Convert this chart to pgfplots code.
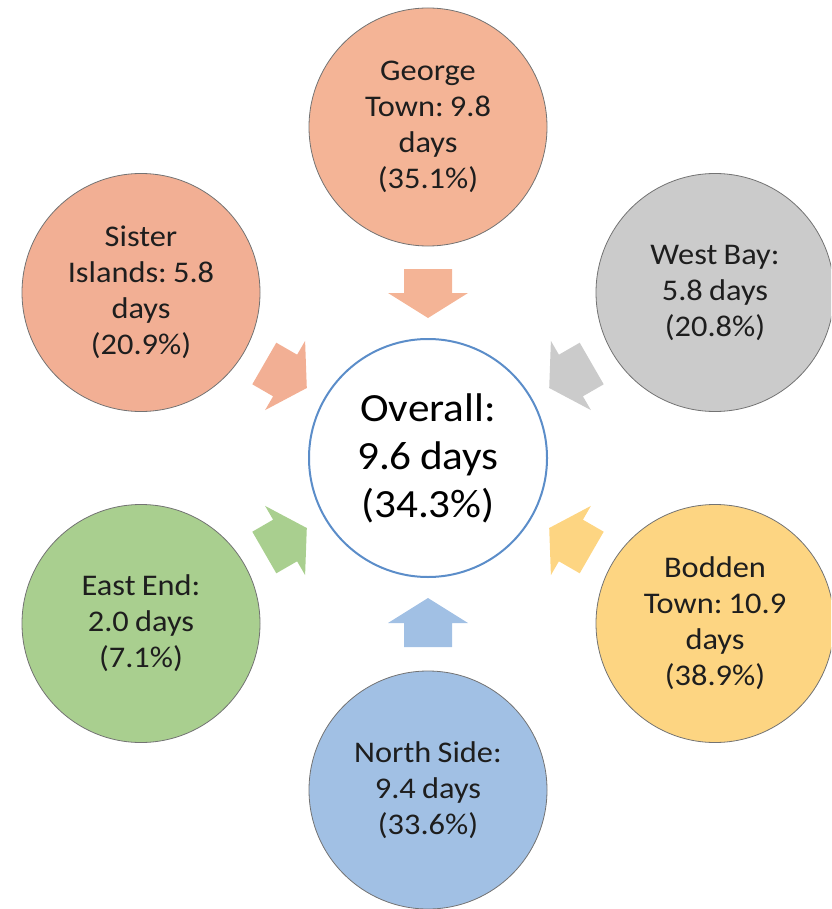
\documentclass[border=0pt]{standalone}
\usepackage{pgfplots}
\pgfplotsset{compat=1.18}
\usepackage{fontspec}
\setmainfont{Carlito}[FakeStretch=1.08, WordSpace=0.85]
\frenchspacing

\definecolor{salmon}{HTML}{F4B496}
\definecolor{salmonB}{HTML}{F2AF94}
\definecolor{greyc}{HTML}{CBCBCB}
\definecolor{gold}{HTML}{FDD582}
\definecolor{leaf}{HTML}{A9CF8F}
\definecolor{sky}{HTML}{A1C0E4}
\definecolor{ring}{HTML}{5B8DC9}
\definecolor{txt}{HTML}{1E1E1E}

% one circle = one point, drawn as a big mark with its label on top
\pgfplotsset{
    bubble/.style={
        ,only marks
        ,mark=*
        ,mark size=89.25pt
        ,mark options={fill=#1, draw=black!55, line width=0.6pt}
        ,point meta=explicit symbolic
        ,nodes near coords
        ,every node near coord/.append style={anchor=center, align=center,
            text=txt, font=\fontsize{22.5}{27}\selectfont}
    },
    arrow/.style={fill=#1, draw=none, no markers},
}

\begin{document}
\begin{tikzpicture}
    \begin{axis}[
            ,scale only axis
            ,width            = 623.25pt
            ,height           = 681.75pt
            ,xmin = 0, xmax   = 831
            ,ymin = 0, ymax   = 909
            ,y dir            = reverse
            ,hide axis
            ,clip marker paths = true
            ]
        \path (rel axis cs:0,0) rectangle (rel axis cs:1,1);

        % block arrows pointing at the middle
        \addplot [arrow=salmon] coordinates {(404,269) (452,269) (452,293) (468,293) (428,318) (388,293) (404,293)} -- cycle;
        \addplot [arrow=sky] coordinates {(404,647) (452,647) (452,623) (468,623) (428,598) (388,623) (404,623)} -- cycle;
        \addplot [arrow=greyc] coordinates {(579.7,342.7) (603.7,384.3) (582.9,396.3) (590.9,410.1) (549.2,388) (550.9,340.9) (558.9,354.7)} -- cycle;
        \addplot [arrow=gold] coordinates {(603.7,531.7) (579.7,573.3) (558.9,561.3) (550.9,575.1) (549.2,528) (590.9,505.9) (582.9,519.7)} -- cycle;
        \addplot [arrow=salmonB] coordinates {(276.3,342.7) (252.3,384.3) (273.1,396.3) (265.1,410.1) (306.8,388) (305.1,340.9) (297.1,354.7)} -- cycle;
        \addplot [arrow=leaf] coordinates {(252.3,531.7) (276.3,573.3) (297.1,561.3) (305.1,575.1) (306.8,528) (265.1,505.9) (273.1,519.7)} -- cycle;

        % outer circles
        \addplot [bubble=salmon]  coordinates {(428,127) [George\\Town: 9.8\\days\\(35.1\%)]};
        \addplot [bubble=greyc]   coordinates {(715,292.5) [West Bay:\\5.8 days\\(20.8\%)]};
        \addplot [bubble=gold]    coordinates {(715,623.5) [Bodden\\Town: 10.9\\days\\(38.9\%)]};
        \addplot [bubble=sky]     coordinates {(428,790) [North Side:\\9.4 days\\(33.6\%)]};
        \addplot [bubble=leaf]    coordinates {(141,623.5) [East End:\\2.0 days\\(7.1\%)]};
        \addplot [bubble=salmonB] coordinates {(141,292.5) [Sister\\Islands: 5.8\\days\\(20.9\%)]};

        % centre
        \addplot [only marks, mark=*, mark size=89.25pt,
            mark options={fill=white, draw=ring, line width=1.5pt},
            point meta=explicit symbolic, nodes near coords,
            every node near coord/.append style={anchor=center, align=center,
                text=black, font=\fontsize{30}{36}\selectfont}]
            coordinates {(428,458) [Overall:\\9.6 days\\(34.3\%)]};
    \end{axis}
\end{tikzpicture}
\end{document}
